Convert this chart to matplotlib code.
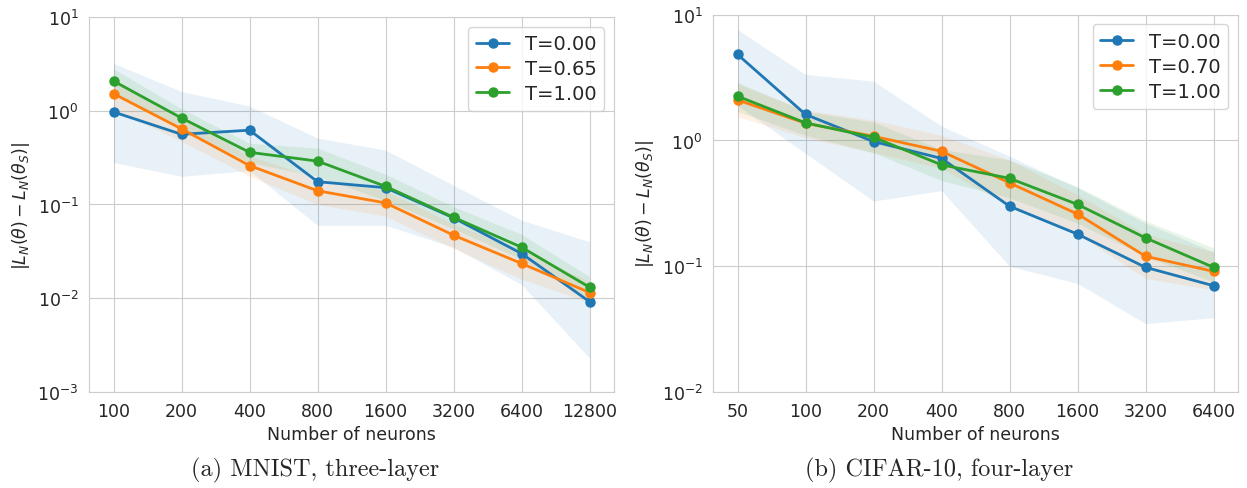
import numpy as np
import matplotlib
matplotlib.use("Agg")
import matplotlib.pyplot as plt
import seaborn as sns

# data (log scale y)
mnist_neurons = ["100", "200", "400", "800", "1600", "3200", "6400", "12800"]
mnist_labels = ["T=0.00", "T=0.65", "T=1.00"]
mnist_t0 = [0.97, 0.56, 0.62, 0.175, 0.151, 0.072, 0.030, 0.0092]
mnist_t065 = [1.52, 0.64, 0.26, 0.14, 0.104, 0.047, 0.0235, 0.0115]
mnist_t1 = [2.07, 0.836, 0.36, 0.29, 0.156, 0.073, 0.035, 0.0131]
mnist_t0_lo = [0.28, 0.20, 0.23, 0.06, 0.06, 0.035, 0.014, 0.0023]
mnist_t0_hi = [3.2, 1.6, 1.12, 0.51, 0.38, 0.16, 0.068, 0.040]
mnist_t065_lo = [1.05, 0.47, 0.20, 0.10, 0.075, 0.034, 0.016, 0.009]
mnist_t065_hi = [2.2, 0.85, 0.33, 0.19, 0.14, 0.062, 0.033, 0.015]
mnist_t1_lo = [1.5, 0.65, 0.28, 0.20, 0.11, 0.055, 0.026, 0.010]
mnist_t1_hi = [2.8, 1.05, 0.45, 0.40, 0.21, 0.095, 0.048, 0.017]

cifar_neurons = ["50", "100", "200", "400", "800", "1600", "3200", "6400"]
cifar_labels = ["T=0.00", "T=0.70", "T=1.00"]
cifar_t0 = [4.83, 1.61, 0.98, 0.72, 0.30, 0.18, 0.098, 0.070]
cifar_t07 = [2.10, 1.37, 1.08, 0.82, 0.46, 0.26, 0.12, 0.091]
cifar_t1 = [2.25, 1.38, 1.06, 0.64, 0.50, 0.31, 0.168, 0.098]
cifar_t0_lo = [1.9, 0.79, 0.33, 0.40, 0.10, 0.073, 0.035, 0.039]
cifar_t0_hi = [7.6, 3.35, 2.96, 1.3, 0.75, 0.42, 0.22, 0.13]
cifar_t07_lo = [1.55, 1.05, 0.80, 0.60, 0.30, 0.18, 0.08, 0.065]
cifar_t07_hi = [2.8, 1.75, 1.45, 1.1, 0.70, 0.37, 0.18, 0.13]
cifar_t1_lo = [1.7, 1.1, 0.80, 0.48, 0.35, 0.22, 0.12, 0.075]
cifar_t1_hi = [2.9, 1.7, 1.4, 0.85, 0.70, 0.43, 0.23, 0.14]

sns.set_style("whitegrid")
plt.rcParams["font.family"] = ["DejaVu Sans"]
plt.rcParams["mathtext.fontset"] = "dejavusans"

colors = ["#1f77b4", "#ff7f0e", "#2ca02c"]


def draw(ax, neurons, means, los, his, labels, ylim):
    x = np.arange(len(neurons))
    for m, lo, hi, lab, c in zip(means, los, his, labels, colors):
        ax.fill_between(x, lo, hi, color=c, alpha=0.1, linewidth=0)
        ax.plot(x, m, marker="o", color=c, lw=2, ms=6.5, label=lab)
    ax.set_yscale("log")
    ax.set_ylim(*ylim)
    ax.set_xlim(-0.36, len(neurons) - 1 + 0.36)
    ax.set_xticks(x)
    ax.set_xticklabels(neurons)
    ax.tick_params(labelsize=12.5, pad=4)
    ax.set_xlabel("Number of neurons", fontsize=12.5, labelpad=3)
    ax.set_ylabel(r"$|L_N(\theta) - L_N(\theta_S)|$", fontsize=12.5, labelpad=4)
    ax.minorticks_off()
    for s in ax.spines.values():
        s.set_color("#cccccc")
    ax.legend(loc="upper right", fontsize=14, handlelength=1.7, handletextpad=0.8,
              borderpad=0.4, labelspacing=0.3)


fig = plt.figure(figsize=(12.47, 4.89), dpi=100)
ax1 = fig.add_axes([0.0714, 0.1963, 0.421, 0.767])
ax2 = fig.add_axes([0.5718, 0.1963, 0.421, 0.7716])

draw(ax1, mnist_neurons, [mnist_t0, mnist_t065, mnist_t1],
     [mnist_t0_lo, mnist_t065_lo, mnist_t1_lo],
     [mnist_t0_hi, mnist_t065_hi, mnist_t1_hi], mnist_labels, (1e-3, 1e1))
draw(ax2, cifar_neurons, [cifar_t0, cifar_t07, cifar_t1],
     [cifar_t0_lo, cifar_t07_lo, cifar_t1_lo],
     [cifar_t0_hi, cifar_t07_hi, cifar_t1_hi], cifar_labels, (1e-2, 1e1))

# subfigure captions
cap = dict(fontsize=17.5, ha="center", va="center", family=["cmr10", "DejaVu Serif"])
fig.text(315 / 1247, 1 - 470 / 489, "(a) MNIST, three-layer", **cap)
fig.text(939 / 1247, 1 - 470 / 489, "(b) CIFAR-10, four-layer", **cap)

fig.savefig("out.png", dpi=100)
